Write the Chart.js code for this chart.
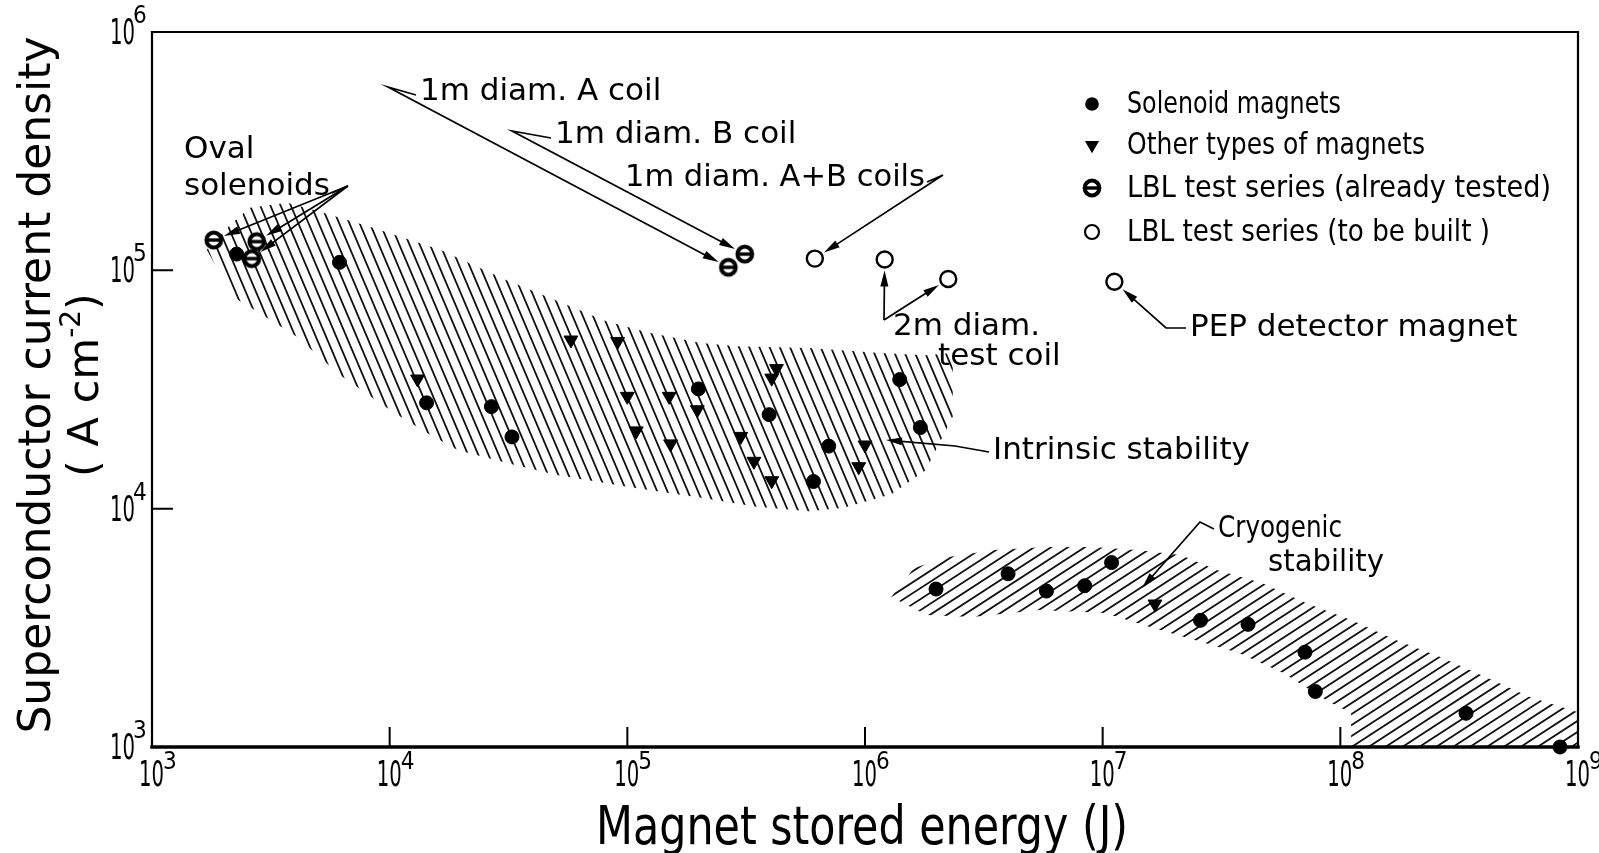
<!DOCTYPE html>
<html>
<head>
<meta charset="utf-8">
<script src="https://cdn.jsdelivr.net/npm/chart.js@4.4.0/dist/chart.umd.min.js"></script>
<style>
  html, body { margin: 0; padding: 0; background: #fff; overflow: hidden; }
</style>
</head>
<body>
<canvas id="chart" width="1599" height="853"></canvas>
<script>
// magnet stored energy (J) vs superconductor current density (A cm^-2), log-log

const xTicks = [1e3, 1e4, 1e5, 1e6, 1e7, 1e8, 1e9];
const yTicks = [1e3, 1e4, 1e5, 1e6];

// Solenoid magnets (filled circles)
const solenoidX = [2270, 6150, 14300, 26800, 32700, 199000, 395000, 607000, 704000, 1400000, 1710000,
  1990000, 4000000, 5800000, 8400000, 10900000, 25800000, 40900000, 71000000, 78500000, 338000000, 840000000];
const solenoidY = [117000, 108000, 27800, 26800, 20000, 31800, 24800, 13000, 18300, 34800, 21900,
  4600, 5330, 4510, 4750, 5940, 3400, 3270, 2500, 1710, 1385, 1000];

// Other types of magnets (down triangles)
const otherX = [13100, 57900, 91000, 100000, 109000, 150000, 152000, 197000, 300000, 341000, 405000,
  424000, 405000, 1000000, 941000, 16600000];
const otherY = [35000, 51000, 50300, 29600, 21200, 29600, 18700, 26000, 20100, 15800, 13100,
  38700, 35300, 18500, 15000, 3980];

// LBL test series, already tested
const testedX = [1820, 2760, 2630, 266000, 312000];
const testedY = [134000, 132000, 112000, 103000, 117000];

// LBL test series, to be built (last one is the PEP detector magnet)
const plannedX = [615000, 1210000, 2240000, 11200000];
const plannedY = [112000, 111000, 92000, 89500];

// hatched bands: outline of the two regions
const intrinsicX = [1700, 2130, 2580, 3700, 5090, 8510, 16300, 30700, 46300, 80500, 122000, 204000, 287000,
  581000, 1160000, 1800000, 2340000, 2340000, 1800000, 1290000, 815000, 581000, 344000, 204000, 103000,
  51100, 34000, 19400, 14800, 10400, 6180, 4070, 2580, 2190];
const intrinsicY = [122000, 155000, 183000, 192000, 176000, 151000, 122000, 91200, 77300, 61500, 54800,
  49600, 48000, 47200, 45000, 44000, 45000, 24300, 14500, 11500, 10100, 9750, 10200, 11100, 12300,
  13800, 15200, 17600, 20400, 25300, 36400, 52600, 70200, 77300];

const cryoX = [1290000, 1610000, 2250000, 3490000, 5820000, 9010000, 13900000, 21300000, 30200000,
  46800000, 71600000, 111000000, 171000000, 262000000, 406000000, 627000000, 1e9, 1e9, 111000000,
  111000000, 89500000, 57800000, 37400000, 24400000, 15800000, 10200000, 5390000, 2820000, 1820000];
const cryoY = [4260, 5640, 6270, 6710, 6910, 6910, 6710, 6390, 5530, 4880, 4020, 3410, 2810, 2390,
  1970, 1620, 1400, 1000, 1000, 1390, 1550, 2040, 2480, 2810, 3190, 3650, 3760, 3510, 3580];

const legendLabels = ['Solenoid magnets', 'Other types of magnets',
  'LBL test series (already tested)', 'LBL test series (to be built )'];
const legendWidths = [214, 298, 424, 363];

const GEO = '"DejaVu Sans", sans-serif';
const NARROW = '"Liberation Sans Narrow", "DejaVu Sans Condensed", "Liberation Sans", sans-serif';

function pairs(xs, ys) {
  return xs.map((v, i) => ({ x: v, y: ys[i] }));
}

function testedSymbol() {
  const c = document.createElement('canvas');
  c.width = c.height = 24;
  const g = c.getContext('2d');
  g.fillStyle = '#fff';
  g.strokeStyle = '#000';
  g.lineWidth = 4;
  g.beginPath();
  g.arc(12, 12, 7.4, 0, Math.PI * 2);
  g.fill();
  g.stroke();
  g.lineWidth = 3.4;
  g.beginPath();
  g.moveTo(4, 12);
  g.lineTo(20, 12);
  g.stroke();
  return c;
}
const testedImg = testedSymbol();

function hatch(ctx, pts, angle, gap) {
  ctx.save();
  ctx.beginPath();
  pts.forEach((p, i) => i ? ctx.lineTo(p[0], p[1]) : ctx.moveTo(p[0], p[1]));
  ctx.closePath();
  ctx.clip();
  const xs = pts.map(p => p[0]), ys = pts.map(p => p[1]);
  const x0 = Math.min(...xs), x1 = Math.max(...xs), y0 = Math.min(...ys), y1 = Math.max(...ys);
  const cx = (x0 + x1) / 2, cy = (y0 + y1) / 2;
  const R = Math.hypot(x1 - x0, y1 - y0) / 2 + 10;
  const t = angle * Math.PI / 180;
  const dx = Math.cos(t), dy = Math.sin(t);
  ctx.strokeStyle = '#111';
  ctx.lineWidth = 1.8;
  ctx.beginPath();
  for (let s = -R; s <= R; s += gap) {
    const px = cx - dy * s, py = cy + dx * s;
    ctx.moveTo(px - dx * R, py - dy * R);
    ctx.lineTo(px + dx * R, py + dy * R);
  }
  ctx.stroke();
  ctx.restore();
}

// polyline with an arrowhead at the last point, pulled back by `gap`
function arrow(ctx, pts, gap) {
  const n = pts.length;
  const [ax, ay] = pts[n - 2];
  let [bx, by] = pts[n - 1];
  const L = Math.hypot(bx - ax, by - ay);
  const ux = (bx - ax) / L, uy = (by - ay) / L;
  bx -= ux * gap; by -= uy * gap;
  ctx.save();
  ctx.strokeStyle = '#000';
  ctx.fillStyle = '#000';
  ctx.lineWidth = 1.7;
  ctx.beginPath();
  ctx.moveTo(pts[0][0], pts[0][1]);
  for (let i = 1; i < n - 1; i++) ctx.lineTo(pts[i][0], pts[i][1]);
  ctx.lineTo(bx - ux * 10, by - uy * 10);
  ctx.stroke();
  ctx.beginPath();
  ctx.moveTo(bx, by);
  ctx.lineTo(bx - ux * 16 - uy * 4, by - uy * 16 + ux * 4);
  ctx.lineTo(bx - ux * 16 + uy * 4, by - uy * 16 - ux * 4);
  ctx.closePath();
  ctx.fill();
  ctx.restore();
}

const drawing = {
  id: 'drawing',
  beforeDatasetsDraw(chart) {
    const { ctx, chartArea: a, scales: { x, y } } = chart;
    const P = (xs, ys) => xs.map((v, i) => [x.getPixelForValue(v), y.getPixelForValue(ys[i])]);
    hatch(ctx, P(intrinsicX, intrinsicY), 67, 9.4);
    hatch(ctx, P(cryoX, cryoY), -33, 9.2);

    // frame
    ctx.save();
    ctx.strokeStyle = '#000';
    ctx.lineCap = 'square';
    ctx.lineWidth = 2.2;
    ctx.beginPath();
    ctx.moveTo(a.left, a.bottom); ctx.lineTo(a.left, a.top); ctx.lineTo(a.right, a.top); ctx.lineTo(a.right, a.bottom);
    ctx.stroke();
    ctx.lineWidth = 3.4;
    ctx.beginPath();
    ctx.moveTo(a.left, a.bottom); ctx.lineTo(a.right, a.bottom);
    ctx.stroke();

    // inward tick marks
    ctx.lineWidth = 2;
    ctx.beginPath();
    xTicks.slice(1, -1).forEach(t => {
      const px = x.getPixelForValue(t);
      ctx.moveTo(px, a.bottom); ctx.lineTo(px, a.bottom - 19);
    });
    yTicks.slice(1, -1).forEach(t => {
      const py = y.getPixelForValue(t);
      ctx.moveTo(a.left, py); ctx.lineTo(a.left + 20, py);
    });
    ctx.stroke();

    // tick labels: "10" with the exponent raised
    ctx.fillStyle = '#000';
    xTicks.forEach(t => {
      const px = x.getPixelForValue(t);
      ctx.font = '35px ' + NARROW;
      ctx.textAlign = 'right';
      ctx.textBaseline = 'middle';
      ctx.fillText('10', px + 12, a.bottom + 30, 25);
      ctx.font = '24px ' + NARROW;
      ctx.textAlign = 'left';
      ctx.textBaseline = 'alphabetic';
      ctx.fillText(String(Math.round(Math.log10(t))), px + 11, a.bottom + 22);
    });
    yTicks.forEach(t => {
      const py = y.getPixelForValue(t);
      ctx.font = '35px ' + NARROW;
      ctx.textAlign = 'right';
      ctx.textBaseline = 'middle';
      ctx.fillText('10', a.left - 17, py + 3, 25);
      ctx.font = '24px ' + NARROW;
      ctx.textAlign = 'left';
      ctx.textBaseline = 'alphabetic';
      ctx.fillText(String(Math.round(Math.log10(t))), a.left - 19, py - 9);
    });

    // axis titles
    ctx.font = '53px ' + NARROW;
    ctx.textAlign = 'center';
    ctx.textBaseline = 'middle';
    ctx.fillText('Magnet stored energy (J)', (a.left + a.right) / 2 - 3, a.bottom + 83, 532);

    ctx.translate(39, 385);
    ctx.rotate(-Math.PI / 2);
    ctx.font = '44px ' + GEO;
    ctx.fillText('Superconductor current density', 0, 0);
    // second line: ( A cm^-2 )
    const parts = [['( A cm', 43, 0], ['-2', 28, -14], [')', 43, 0]];
    let w = 0;
    parts.forEach(p => { ctx.font = p[1] + 'px ' + GEO; w += ctx.measureText(p[0]).width; });
    let cx = -w / 2;
    ctx.textAlign = 'left';
    parts.forEach(p => {
      ctx.font = p[1] + 'px ' + GEO;
      ctx.fillText(p[0], cx, 48 + p[2]);
      cx += ctx.measureText(p[0]).width;
    });
    ctx.restore();
  },
  afterDatasetsDraw(chart) {
    const { ctx, scales: { x, y } } = chart;
    const pt = (vx, vy) => [x.getPixelForValue(vx), y.getPixelForValue(vy)];

    ctx.save();
    ctx.fillStyle = '#000';
    ctx.font = '31px ' + GEO;
    ctx.textAlign = 'left';
    ctx.textBaseline = 'middle';

    // Oval solenoids
    ctx.fillText('Oval', 184, 150);
    ctx.fillText('solenoids', 184, 187);
    const ovalEnd = 184 + ctx.measureText('solenoids').width;
    ctx.lineWidth = 1.7;
    ctx.beginPath(); ctx.moveTo(ovalEnd + 2, 193); ctx.lineTo(ovalEnd + 18, 186); ctx.stroke();
    [0, 1, 2].forEach(i => arrow(ctx, [[ovalEnd + 18, 186], pt(testedX[i], testedY[i])], 11));

    // 1 m coils
    ctx.fillText('1m diam. A coil', 420, 92);
    arrow(ctx, [[416, 95], [388, 87], pt(testedX[3], testedY[3])], 11);
    ctx.fillText('1m diam. B coil', 555, 135);
    arrow(ctx, [[551, 138], [512, 131], pt(testedX[4], testedY[4])], 11);
    ctx.fillText('1m diam. A+B coils', 625, 178, 300);
    const abEnd = 625 + Math.min(300, ctx.measureText('1m diam. A+B coils').width);
    arrow(ctx, [[abEnd + 2, 182], [abEnd + 18, 175], pt(plannedX[0], plannedY[0])], 11);

    // 2 m test coil
    ctx.fillText('2m diam.', 893, 327);
    ctx.fillText('test coil', 938, 357);
    arrow(ctx, [[884, 320], pt(plannedX[1], plannedY[1])], 11);
    arrow(ctx, [[884, 320], pt(plannedX[2], plannedY[2])], 11);

    // PEP
    ctx.fillText('PEP detector magnet', 1190, 328);
    arrow(ctx, [[1186, 328], [1166, 328], pt(plannedX[3], plannedY[3])], 11);

    // stability regions
    ctx.fillText('Intrinsic stability', 993, 451);
    arrow(ctx, [[989, 452], [955, 446], [886, 440]], 0);
    ctx.fillText('Cryogenic', 1218, 529, 124);
    ctx.fillText('stability', 1268, 563, 116);
    arrow(ctx, [[1214, 529], [1200, 522], [1142, 588]], 0);

    // legend
    const rows = [104, 145, 188, 232];
    const lx = 1092;
    ctx.fillStyle = '#000';
    ctx.strokeStyle = '#000';
    Chart.helpers.drawPoint(ctx, { pointStyle: 'circle', radius: 6, borderWidth: 1 }, lx, rows[0]);
    Chart.helpers.drawPoint(ctx, { pointStyle: 'triangle', radius: 6.5, rotation: 180, borderWidth: 1 }, lx, rows[1]);
    ctx.drawImage(testedImg, lx - 12, rows[2] - 12);
    ctx.fillStyle = '#fff';
    ctx.lineWidth = 2.2;
    ctx.beginPath(); ctx.arc(lx, rows[3], 7, 0, Math.PI * 2); ctx.fill(); ctx.stroke();
    ctx.fillStyle = '#000';
    ctx.font = '31px ' + NARROW;
    legendLabels.forEach((t, i) => ctx.fillText(t, 1127, rows[i] + 1, legendWidths[i]));
    ctx.restore();
  }
};

new Chart(document.getElementById('chart'), {
  type: 'scatter',
  data: {
    datasets: [
      { label: legendLabels[0], data: pairs(solenoidX, solenoidY), pointStyle: 'circle', pointRadius: 7,
        backgroundColor: '#000', borderColor: '#000', borderWidth: 1 },
      { label: legendLabels[1], data: pairs(otherX, otherY), pointStyle: 'triangle', pointRotation: 180,
        pointRadius: 8, backgroundColor: '#000', borderColor: '#000', borderWidth: 1 },
      { label: legendLabels[2], data: pairs(testedX, testedY), pointStyle: testedImg },
      { label: legendLabels[3], data: pairs(plannedX, plannedY), pointStyle: 'circle', pointRadius: 8,
        backgroundColor: '#fff', borderColor: '#000', borderWidth: 2.4 }
    ]
  },
  options: {
    responsive: false,
    animation: false,
    clip: false,
    layout: { padding: { left: 152, top: 32, right: 21, bottom: 106 } },
    plugins: { legend: { display: false }, tooltip: { enabled: false } },
    scales: {
      x: { type: 'logarithmic', min: 1e3, max: 1e9, display: false },
      y: { type: 'logarithmic', min: 1e3, max: 1e6, display: false }
    }
  },
  plugins: [drawing]
});
</script>
</body>
</html>
